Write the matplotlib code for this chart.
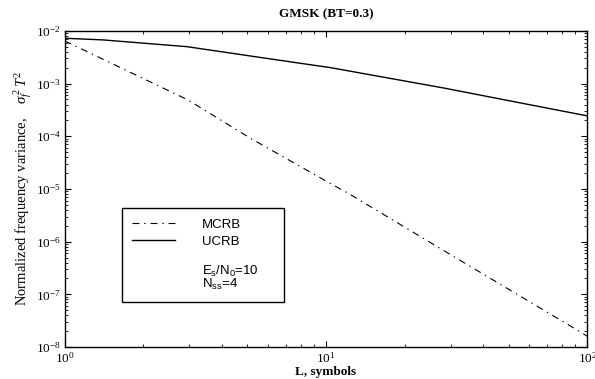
import matplotlib
matplotlib.use('Agg')
import matplotlib.pyplot as plt
from matplotlib.lines import Line2D
from matplotlib.ticker import LogLocator, NullFormatter

# values
L_mcrb = [1.0, 2.12, 2.96, 5.11, 10.6, 12.1, 29.9, 94.0, 100.0]
mcrb = [6.45e-3, 1.08e-3, 4.9e-4, 9.3e-5, 1.2e-5, 8.4e-6, 5.7e-7, 1.94e-8, 1.6e-8]

L_ucrb = [1.0, 1.4, 2.93, 6.49, 10.4, 28.1, 100.0]
ucrb = [7.26e-3, 6.75e-3, 5.03e-3, 2.82e-3, 2.01e-3, 8.28e-4, 2.44e-4]

plt.rcParams['font.family'] = ['Liberation Serif', 'DejaVu Serif']
plt.rcParams['mathtext.fontset'] = 'custom'
plt.rcParams['mathtext.rm'] = 'Liberation Serif'
plt.rcParams['mathtext.it'] = 'Liberation Serif:italic'
plt.rcParams['mathtext.sf'] = 'Liberation Sans'
plt.rcParams['lines.scale_dashes'] = False

fig = plt.figure(figsize=(5.95, 3.79), dpi=100)
ax = fig.add_axes([0.109, 0.0844, 0.878, 0.834])

l1, = ax.plot(L_mcrb, mcrb, color='k', lw=0.8, linestyle=(0, (5, 3.5, 1, 3.5)))
l2, = ax.plot(L_ucrb, ucrb, color='k', lw=1.0)

ax.set_xscale('log')
ax.set_yscale('log')
ax.set_xlim(1, 100)
ax.set_ylim(1e-8, 1e-2)

ax.xaxis.set_major_locator(LogLocator(base=10, numticks=10))
ax.yaxis.set_major_locator(LogLocator(base=10, numticks=10))
ax.xaxis.set_minor_locator(LogLocator(base=10, subs=range(2, 10), numticks=20))
ax.yaxis.set_minor_locator(LogLocator(base=10, subs=range(2, 10), numticks=20))
ax.xaxis.set_minor_formatter(NullFormatter())
ax.yaxis.set_minor_formatter(NullFormatter())
ax.tick_params(which='both', direction='in', top=True, right=True, labelsize=9.5)
ax.tick_params(which='major', length=4, pad=3)
ax.tick_params(which='minor', length=2)
for s in ax.spines.values():
    s.set_linewidth(1.0)

ax.set_title('GMSK (BT=0.3)', fontsize=9.5, fontweight='bold', pad=10)
ax.set_xlabel('L, symbols', fontsize=9.5, fontweight='bold', labelpad=0)
ax.set_ylabel(r'Normalized frequency variance,    $\sigma_f^{\,2}\,T^2$', fontsize=10.5, labelpad=1)

blank = Line2D([], [], color='none')
leg = ax.legend([l1, l2, blank],
                ['MCRB', 'UCRB', '\n' + r'$\mathsf{E_s/N_0}$=10' + '\n' + r'$\mathsf{N_{ss}}$=4'],
                loc='lower left', bbox_to_anchor=(0.109, 0.142, 0.31, 0.297), mode='expand',
                prop={'family': 'Liberation Sans', 'size': 9.5},
                handlelength=3.3, handletextpad=2.0, borderpad=0.75,
                labelspacing=0.4, fancybox=False, framealpha=1,
                edgecolor='k', borderaxespad=0)
leg.get_texts()[2].set_linespacing(0.85)
leg.get_frame().set_linewidth(1.0)

fig.savefig('out.png', dpi=100)
